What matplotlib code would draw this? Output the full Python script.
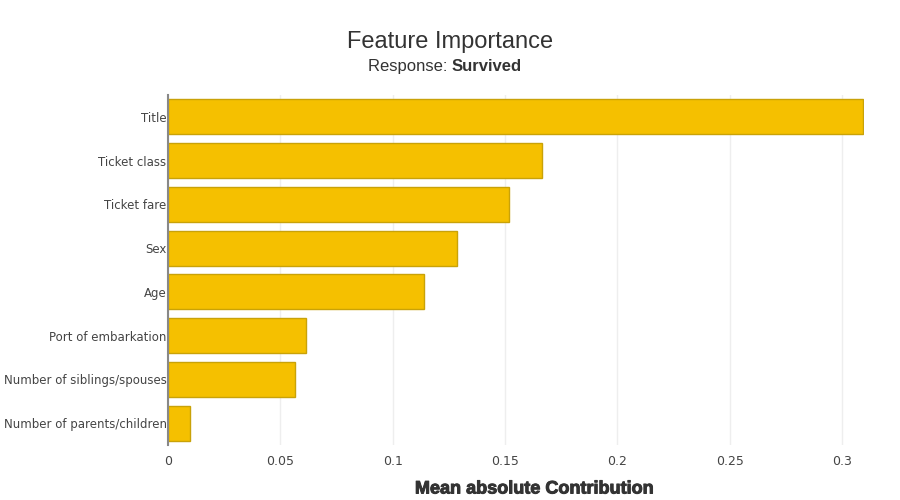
import matplotlib
matplotlib.use("Agg")
import matplotlib.pyplot as plt
import matplotlib.patheffects as pe

features = ["Title", "Ticket class", "Ticket fare", "Sex", "Age",
            "Port of embarkation", "Number of siblings/spouses",
            "Number of parents/children"]
importance = [0.3095, 0.1665, 0.1518, 0.1287, 0.1140, 0.0614, 0.0565, 0.0098]
xticks = [0, 0.05, 0.1, 0.15, 0.2, 0.25, 0.3]
xtick_labels = ["0", "0.05", "0.1", "0.15", "0.2", "0.25", "0.3"]

fig = plt.figure(figsize=(9, 5), dpi=100)
ax = fig.add_axes([168 / 900, 55 / 500, (864 - 168) / 900, (445 - 95) / 500])

pos = list(range(len(features)))
ax.barh(pos, importance, height=0.8, color="#F5C000", edgecolor="#C9A208",
        linewidth=1, zorder=3)
ax.set_ylim(len(features) - 0.5, -0.5)
ax.set_xlim(0, 0.3098)
ax.set_yticks(pos)
ax.set_yticklabels(features, fontsize=8.5, color="#444444", family="DejaVu Sans")
ax.set_xticks(xticks)
ax.set_xticklabels(xtick_labels, fontsize=9, color="#444444", family="DejaVu Sans")
ax.tick_params(axis="y", length=0, pad=1)
ax.tick_params(axis="x", length=0, pad=7)
ax.grid(axis="x", color="#EEEEEE", linewidth=1, zorder=0)

for side in ["top", "right", "bottom"]:
    ax.spines[side].set_visible(False)
ax.spines["left"].set_color("#888888")
ax.spines["left"].set_linewidth(1.5)
ax.spines["left"].set_zorder(4)

fig.text(0.5, 1 - 42 / 500, "Feature Importance", ha="center", va="center",
         fontsize=17, color="#333333", family="Liberation Sans")
fig.text(452 / 900, 1 - 71 / 500, "Response: ", ha="right", va="baseline",
         fontsize=12, color="#333333", family="Liberation Sans")
fig.text(452 / 900, 1 - 71 / 500, "Survived", ha="left", va="baseline",
         fontsize=12, fontweight="bold", color="#333333", family="Liberation Sans")
fig.text(534 / 900, 1 - 489 / 500, "Mean absolute Contribution", ha="center",
         va="center", fontsize=13, fontweight="bold", color="#333333",
         family="Liberation Sans",
         path_effects=[pe.withStroke(linewidth=0.7, foreground="#333333")])

fig.savefig("out.png", dpi=100)
